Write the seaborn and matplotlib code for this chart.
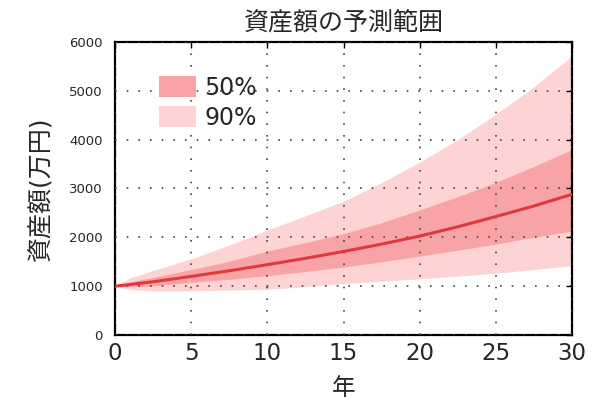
import seaborn as sns
import matplotlib
matplotlib.use("Agg")
import matplotlib.pyplot as plt
import pandas as pd

# values
years = [0, 1, 2.5, 5, 7.5, 10, 12.5, 15, 17.5, 20, 22.5, 25, 27.5, 30]
median = [1000, 1035, 1090, 1200, 1315, 1440, 1570, 1710, 1860, 2025, 2215, 2425, 2640, 2880]
upper50 = [1000, 1090, 1180, 1340, 1510, 1720, 1890, 2075, 2300, 2560, 2830, 3125, 3450, 3800]
lower50 = [1000, 985, 1005, 1080, 1140, 1215, 1300, 1390, 1500, 1615, 1735, 1860, 2000, 2130]
upper90 = [1000, 1170, 1320, 1560, 1840, 2150, 2440, 2740, 3120, 3540, 4000, 4520, 5080, 5710]
lower90 = [1000, 930, 905, 905, 920, 935, 990, 1055, 1100, 1150, 1205, 1265, 1340, 1420]

title = "資産額の予測範囲"
xlabel = "年"
ylabel = "資産額(万円)"
band_labels = ["50%", "90%"]

df = pd.DataFrame({"year": years, "median": median})

sns.set_style("white")
plt.rcParams["font.family"] = ["DejaVu Sans", "Noto Sans CJK JP"]

fig = plt.figure(figsize=(6, 4.08), dpi=100)
ax = fig.add_axes([0.192, 0.179, 0.761, 0.718])

ax.fill_between(years, lower90, upper90, color="#fdd3d4", lw=0, label=band_labels[1], zorder=1)
ax.fill_between(years, lower50, upper50, color="#f8a4a6", lw=0, label=band_labels[0], zorder=2)
sns.lineplot(data=df, x="year", y="median", ax=ax, color="#e0393b", lw=2.2, zorder=3)

ax.set_xlim(0, 30)
ax.set_ylim(0, 6000)
ax.set_xticks(range(0, 31, 5))
ax.set_yticks(range(0, 6001, 1000))
ax.grid(True, color="#444444", linestyle=(0, (1, 6)), lw=1.2, zorder=4)
ax.set_axisbelow(False)

for s in ax.spines.values():
    s.set_visible(True)
    s.set_color("black")
    s.set_linewidth(1.6)

ax.tick_params(axis="both", direction="in", top=True, right=True, length=4, width=1, color="black")
ax.tick_params(axis="x", labelsize=16.5, pad=5)
ax.tick_params(axis="y", labelsize=9.5, pad=9)

ax.set_title(title, fontsize=18, pad=9)
ax.set_xlabel(xlabel, fontsize=17, labelpad=8)
ax.set_ylabel(ylabel, fontsize=18, labelpad=12)

h, l = ax.get_legend_handles_labels()
order = [l.index(band_labels[0]), l.index(band_labels[1])]
ax.legend([h[i] for i in order], [l[i] for i in order], loc="upper left",
          bbox_to_anchor=(0.095, 0.885), frameon=False, fontsize=17,
          handlelength=1.6, handleheight=1.0, handletextpad=0.35,
          labelspacing=0.25, borderpad=0, borderaxespad=0)

fig.savefig("out.png", dpi=100)
